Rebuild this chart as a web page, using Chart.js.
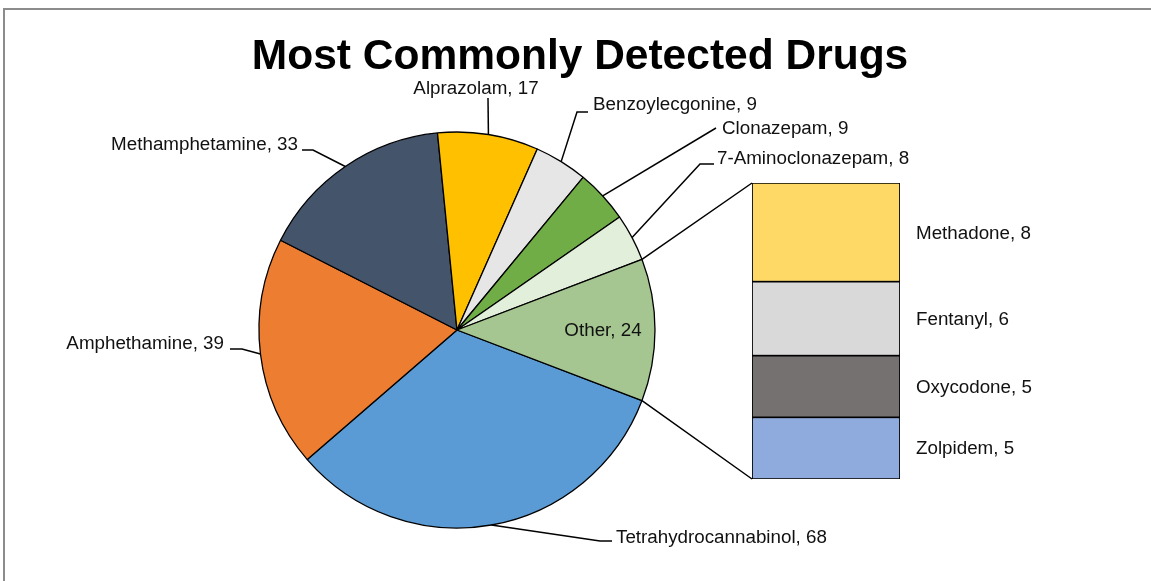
<!DOCTYPE html>
<html>
<head>
<meta charset="utf-8">
<script src="https://cdn.jsdelivr.net/npm/chart.js@4.4.1/dist/chart.umd.min.js"></script>
<style>
  html, body { margin: 0; padding: 0; background: #fff; overflow: hidden; }
  #frame {
    position: absolute; left: 3px; top: 8px; width: 1200px; height: 600px;
    border-top: 2px solid #8c8c8c; border-left: 2px solid #8c8c8c;
  }
  #pie { position: absolute; left: 0; top: 0; }
  #bar { position: absolute; left: 600px; top: 0; }
</style>
</head>
<body>
<div id="frame"></div>
<canvas id="pie" width="1151" height="581"></canvas>
<canvas id="bar" width="551" height="581"></canvas>
<script>
const chartTitle = 'Most Commonly Detected Drugs';

// pie slices, clockwise from the "Other" split
const pieLabels = ['Tetrahydrocannabinol', 'Amphethamine', 'Methamphetamine', 'Alprazolam',
  'Benzoylecgonine', 'Clonazepam', '7-Aminoclonazepam', 'Other'];
const pieValues = [68, 39, 33, 17, 9, 9, 8, 24];
const pieColors = ['#5B9BD5', '#ED7D31', '#44546A', '#FFC000',
  '#E7E6E6', '#70AD47', '#E2EFDA', '#A5C690'];

// the "Other" slice broken out, top to bottom
const barLabels = ['Methadone', 'Fentanyl', 'Oxycodone', 'Zolpidem'];
const barValues = [8, 6, 5, 5];
const barColors = ['#FFD966', '#D9D9D9', '#767171', '#8FAADC'];

const FONT = '"Liberation Sans", Arial, sans-serif';
const LABEL_FONT = '18.8px ' + FONT;

// label placement relative to pie centre (leader elbow points + text anchor)
const pieLabelLayout = [
  { leader: [[143, 211], [155, 211]], text: [159, 208], align: 'left' },
  { leader: [[-215, 19], [-227, 19]], text: [-233, 14], align: 'right' },
  { leader: [[-144, -180], [-155, -180]], text: [-159, -185], align: 'right' },
  { leader: [[31, -232]], text: [19, -241], align: 'center' },
  { leader: [[120, -218], [131, -218]], text: [136, -225], align: 'left' },
  { leader: [[259, -202]], text: [265, -201], align: 'left' },
  { leader: [[243, -166], [257, -166]], text: [260, -171], align: 'left' },
  { leader: null, text: [146, 1], align: 'center' },
];

const total = pieValues.reduce((a, b) => a + b, 0);
const otherValue = pieValues[pieValues.length - 1];

const pieLabelPlugin = {
  id: 'pieLabels',
  afterDraw(chart) {
    const ctx = chart.ctx;
    ctx.save();
    // title
    ctx.fillStyle = '#000';
    ctx.font = 'bold 42.5px ' + FONT;
    ctx.textAlign = 'center';
    ctx.textBaseline = 'alphabetic';
    ctx.fillText(chartTitle, 580, 69);

    const arcs = chart.getDatasetMeta(0).data;
    ctx.font = LABEL_FONT;
    ctx.textBaseline = 'middle';
    ctx.strokeStyle = '#000';
    ctx.lineWidth = 1.5;
    arcs.forEach((arc, i) => {
      const lay = pieLabelLayout[i];
      const cx = arc.x, cy = arc.y;
      if (lay.leader) {
        const mid = (arc.startAngle + arc.endAngle) / 2;
        ctx.beginPath();
        ctx.moveTo(cx + arc.outerRadius * Math.cos(mid), cy + arc.outerRadius * Math.sin(mid));
        lay.leader.forEach(p => ctx.lineTo(cx + p[0], cy + p[1]));
        ctx.stroke();
      }
      ctx.fillStyle = '#111';
      ctx.textAlign = lay.align;
      ctx.fillText(pieLabels[i] + ', ' + pieValues[i], cx + lay.text[0], cy + lay.text[1]);
    });
    ctx.restore();
  }
};

const pieChart = new Chart(document.getElementById('pie'), {
  type: 'pie',
  data: {
    labels: pieLabels,
    datasets: [{
      data: pieValues,
      backgroundColor: pieColors,
      borderColor: '#000',
      borderWidth: 1.3,
    }],
  },
  options: {
    responsive: false,
    animation: false,
    rotation: 90 + 180 * otherValue / total,
    radius: 198,
    layout: { padding: { left: 257, right: 494, top: 130, bottom: 51 } },
    plugins: {
      legend: { display: false },
      tooltip: { enabled: false },
    },
  },
  plugins: [pieLabelPlugin],
});

const barLabelPlugin = {
  id: 'barLabels',
  afterDraw(chart) {
    const ctx = chart.ctx;
    const canvasLeft = 600;
    ctx.save();
    // connectors from the "Other" slice to the stacked bar
    const otherArc = pieChart.getDatasetMeta(0).data[pieValues.length - 1];
    const r = otherArc.outerRadius;
    const p1 = [otherArc.x + r * Math.cos(otherArc.startAngle) - canvasLeft,
                otherArc.y + r * Math.sin(otherArc.startAngle)];
    const p2 = [otherArc.x + r * Math.cos(otherArc.endAngle) - canvasLeft,
                otherArc.y + r * Math.sin(otherArc.endAngle)];
    const n = chart.data.datasets.length;
    const topEl = chart.getDatasetMeta(n - 1).data[0];
    const botEl = chart.getDatasetMeta(0).data[0];
    const left = topEl.x - topEl.width / 2;
    ctx.strokeStyle = '#000';
    ctx.lineWidth = 1.5;
    ctx.beginPath();
    ctx.moveTo(p1[0], p1[1]);
    ctx.lineTo(left, topEl.y);
    ctx.moveTo(p2[0], p2[1]);
    ctx.lineTo(left, botEl.base);
    ctx.stroke();

    // segment labels
    ctx.fillStyle = '#111';
    ctx.font = LABEL_FONT;
    ctx.textAlign = 'left';
    ctx.textBaseline = 'middle';
    chart.data.datasets.forEach((ds, i) => {
      const el = chart.getDatasetMeta(i).data[0];
      const right = el.x + el.width / 2;
      ctx.fillText(ds.label + ', ' + ds.data[0], right + 16, (el.y + el.base) / 2 + 1);
    });
    ctx.restore();
  }
};

// stacked bar: first dataset sits at the bottom
const barDatasets = barLabels.map((name, i) => ({
  label: name,
  data: [barValues[i]],
  backgroundColor: barColors[i],
  borderColor: '#000',
  borderWidth: 1.2,
  borderSkipped: false,
  barPercentage: 1,
  categoryPercentage: 1,
})).reverse();

new Chart(document.getElementById('bar'), {
  type: 'bar',
  data: { labels: [''], datasets: barDatasets },
  options: {
    responsive: false,
    animation: false,
    layout: { padding: { left: 152, right: 251, top: 183, bottom: 102 } },
    scales: {
      x: { display: false, stacked: true },
      y: { display: false, stacked: true, min: 0, max: otherValue },
    },
    plugins: {
      legend: { display: false },
      tooltip: { enabled: false },
    },
  },
  plugins: [barLabelPlugin],
});
</script>
</body>
</html>
